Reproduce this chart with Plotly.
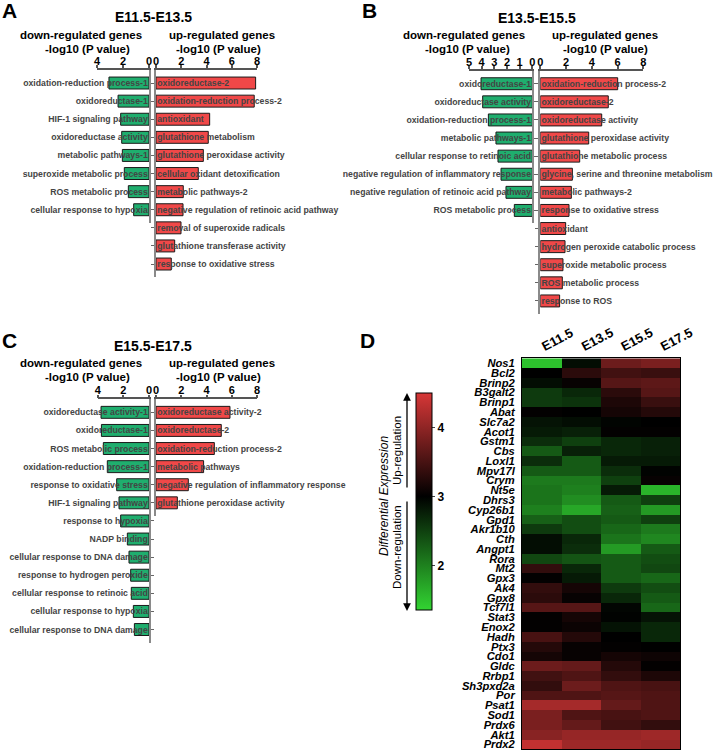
import plotly.graph_objects as go

W, H = 715, 752
S = 18.1      # row pitch in px
PAD = 0.72    # padding (in rows) above first / below last bar

# ---------------- data ----------------
a_down_terms = ["oxidation-reduction process-1", "oxidoreductase-1", "HIF-1 signaling pathway",
                "oxidoreductase activity", "metabolic pathways-1", "superoxide metabolic process",
                "ROS metabolic process", "cellular response to hypoxia"]
a_down_vals = [3.08, 2.38, 2.18, 2.10, 2.05, 1.90, 1.59, 1.18]
a_up_terms = ["oxidoreductase-2", "oxidation-reduction process-2", "antioxidant",
              "glutathione metabolism", "glutathione peroxidase activity",
              "cellular oxidant detoxification", "metabolic pathways-2",
              "negative regulation of retinoic acid pathway", "removal of superoxide radicals",
              "glutathione transferase activity", "response to oxidative stress"]
a_up_vals = [7.89, 7.78, 4.25, 4.14, 3.75, 3.35, 2.16, 2.14, 1.98, 1.48, 1.21]

b_down_terms = ["oxidoreductase-1", "oxidoreductase activity", "oxidation-reduction process-1",
                "metabolic pathways-1", "cellular response to retinoic acid",
                "negative regulation of inflammatory response",
                "negative regulation of retinoic acid pathway", "ROS metabolic process"]
b_down_vals = [4.05, 3.92, 3.47, 2.87, 2.71, 2.47, 2.08, 1.42]
b_up_terms = ["oxidation-reduction process-2", "oxidoreductase-2", "oxidoreductase activity",
              "glutathione peroxidase activity", "glutathione metabolic process",
              "glycine, serine and threonine metabolism", "metabolic pathways-2",
              "response to oxidative stress", "antioxidant", "hydrogen peroxide catabolic process",
              "superoxide metabolic process", "ROS metabolic process", "response to ROS"]
b_up_vals = [6.01, 5.28, 4.77, 3.76, 3.06, 2.49, 2.41, 2.23, 1.97, 1.92, 1.76, 1.71, 1.50]

c_down_terms = ["oxidoreductase activity-1", "oxidoreductase-1", "ROS metabolic process",
                "oxidation-reduction process-1", "response to oxidative stress",
                "HIF-1 signaling pathway", "response to hypoxia", "NADP binding",
                "cellular response to DNA damage", "response to hydrogen peroxide",
                "cellular response to retinoic acid", "cellular response to hypoxia",
                "cellular response to DNA damage"]
c_down_vals = [3.74, 3.71, 3.56, 3.25, 2.52, 2.34, 2.21, 1.69, 1.56, 1.43, 1.38, 1.22, 1.14]
c_up_terms = ["oxidoreductase activity-2", "oxidoreductase-2", "oxidation-reduction process-2",
              "metabolic pathways", "negative regulation of inflammatory response",
              "glutathione peroxidase activity"]
c_up_vals = [5.86, 5.17, 4.62, 3.77, 2.56, 1.69]

stages = ["E11.5", "E13.5", "E15.5", "E17.5"]
genes = ["Nos1", "Bcl2", "Brinp2", "B3galt2", "Brinp1", "Abat", "Slc7a2", "Acot1", "Gstm1",
         "Cbs", "Loxl1", "Mpv17l", "Crym", "Nt5e", "Dhrs3", "Cyp26b1", "Gpd1", "Akr1b10",
         "Cth", "Angpt1", "Rora", "Mt2", "Gpx3", "Ak4", "Gpx8", "Tcf7l1", "Stat3", "Enox2",
         "Hadh", "Ptx3", "Cdo1", "Gldc", "Rrbp1", "Sh3pxd2a", "Por", "Psat1", "Sod1",
         "Prdx6", "Akt1", "Prdx2"]
expr = [
    [1.50, 2.90, 3.75, 3.85],
    [3.00, 3.30, 3.45, 3.40],
    [2.90, 3.05, 3.60, 3.65],
    [2.55, 2.70, 3.30, 3.60],
    [2.55, 2.60, 3.20, 3.40],
    [3.02, 3.00, 3.15, 3.25],
    [2.85, 2.90, 2.97, 3.00],
    [2.80, 2.75, 3.02, 3.02],
    [2.65, 2.50, 2.70, 2.75],
    [2.30, 2.75, 2.70, 2.75],
    [2.65, 2.30, 2.80, 2.80],
    [2.30, 2.30, 2.65, 2.98],
    [2.05, 2.05, 2.50, 3.05],
    [2.10, 2.00, 2.80, 1.60],
    [2.10, 1.90, 2.30, 2.50],
    [2.00, 1.70, 2.25, 1.80],
    [2.25, 2.40, 2.30, 2.50],
    [2.55, 2.40, 2.20, 2.05],
    [2.90, 2.70, 2.10, 1.95],
    [2.90, 2.65, 1.80, 2.30],
    [2.45, 2.35, 2.30, 2.40],
    [3.35, 2.70, 2.30, 2.45],
    [3.02, 2.80, 2.30, 2.20],
    [3.35, 3.15, 2.55, 2.40],
    [3.30, 3.05, 2.70, 2.30],
    [3.60, 3.60, 2.95, 2.20],
    [3.02, 3.15, 2.98, 2.85],
    [3.02, 3.08, 2.85, 2.70],
    [3.50, 3.25, 3.00, 2.70],
    [3.25, 3.05, 3.02, 3.00],
    [3.15, 3.05, 3.15, 3.10],
    [3.75, 3.70, 3.25, 3.02],
    [3.45, 3.55, 3.35, 3.20],
    [3.35, 3.75, 3.55, 3.50],
    [3.55, 3.55, 3.60, 3.55],
    [4.15, 4.15, 3.70, 3.55],
    [3.85, 3.55, 3.50, 3.55],
    [3.85, 3.70, 3.45, 3.35],
    [3.95, 4.05, 4.05, 4.10],
    [4.35, 4.10, 4.10, 4.05],
]
cbar_ticks = [2, 3, 4]

# ---------------- styling ----------------
FONT = "Arial, Liberation Sans, sans-serif"
GREEN = "#1fae6e"
RED = "#f04848"


def X(p):
    return p / W


def Y(p):
    return 1 - p / H


fig = go.Figure()
layout = dict(
    width=W, height=H, margin=dict(l=0, r=0, t=0, b=0),
    paper_bgcolor="white", plot_bgcolor="rgba(0,0,0,0)",
    showlegend=False, font=dict(family=FONT, color="black"),
)

# (terms, values, direction, x0px, x1px, xmax, top px, tick step)
panels = [
    (a_down_terms, a_down_vals, "down", 97, 149, 4, 70, 2),
    (a_up_terms, a_up_vals, "up", 156, 257, 8, 70, 2),
    (b_down_terms, b_down_vals, "down", 469, 532.3, 5, 70.7, 1),
    (b_up_terms, b_up_vals, "up", 540.3, 643.3, 8, 70.7, 2),
    (c_down_terms, c_down_vals, "down", 97.7, 149, 4, 399.3, 2),
    (c_up_terms, c_up_vals, "up", 156, 257, 8, 399.3, 2),
]

for i, (terms, vals, d, x0, x1, xmax, top, step) in enumerate(panels, start=1):
    n = len(terms)
    rows = list(range(n))
    xa = "x" if i == 1 else f"x{i}"
    ya = "y" if i == 1 else f"y{i}"
    fig.add_trace(go.Bar(
        x=vals, y=rows, orientation="h", xaxis=xa, yaxis=ya,
        marker=dict(color=GREEN if d == "down" else RED, line=dict(color="#1a1a1a", width=1)),
        width=0.66, hoverinfo="x+y",
    ))
    bottom = top + (n - 1 + 2 * PAD) * S
    key = "" if i == 1 else str(i)
    layout["xaxis" + key] = dict(
        domain=[X(x0), X(x1)], anchor=ya, side="top",
        range=[xmax, 0] if d == "down" else [0, xmax],
        tickvals=list(range(0, xmax + 1, step)),
        showline=True, linecolor="#555555", linewidth=1.5,
        ticks="outside", ticklen=3, tickcolor="#555555", tickwidth=1.5,
        ticklabelstandoff=-4,
        tickfont=dict(size=11, family=FONT, weight="bold"),
        showgrid=False, zeroline=False, fixedrange=True, automargin=False,
    )
    layout["yaxis" + key] = dict(
        domain=[Y(bottom), Y(top)], anchor=xa,
        side="right" if d == "down" else "left",
        range=[n - 1 + PAD, -PAD],
        tickmode="array", tickvals=rows, ticktext=terms,
        ticklabelposition="inside", ticklabeloverflow="allow",
        ticks="outside", ticklen=3, tickcolor="#666666",
        showline=True, linecolor="#8a8a8a", linewidth=2,
        tickfont=dict(size=8.7, family=FONT, weight="bold"),
        showgrid=False, zeroline=False, fixedrange=True, automargin=False,
    )

# heatmap
lo, hi, mid = 1.35, 4.5, 3.0
fm = (mid - lo) / (hi - lo)
fig.add_trace(go.Heatmap(
    z=expr, x=stages, y=genes, xaxis="x7", yaxis="y7",
    zmin=lo, zmax=hi,
    colorscale=[[0, "rgb(50,212,50)"], [fm, "rgb(0,0,0)"], [1, "rgb(215,55,55)"]],
    colorbar=dict(
        x=X(415.7), xanchor="left", y=Y(393.3), yanchor="top",
        len=(610 - 393.3) / H, lenmode="fraction", thickness=16, thicknessmode="pixels",
        outlinecolor="black", outlinewidth=1,
        tickmode="array", tickvals=cbar_ticks, ticks="outside", ticklen=3,
        tickfont=dict(size=12, family=FONT, weight="bold"), xpad=0, ypad=0,
    ),
))
layout["xaxis7"] = dict(
    domain=[X(522), X(680.3)], anchor="y7", side="top", tickangle=-28,
    tickfont=dict(size=13, family=FONT, weight="bold"), ticks="",
    showline=True, mirror=True, linecolor="black", linewidth=1, fixedrange=True,
    automargin=False,
)
layout["yaxis7"] = dict(
    domain=[Y(749.3), Y(358.3)], anchor="x7", autorange="reversed",
    tickmode="array", tickvals=genes, ticktext=genes,
    ticks="outside", ticklen=4, tickcolor="rgba(0,0,0,0)",
    tickfont=dict(size=11.2, family=FONT, weight="bold", style="italic"),
    showline=True, mirror=True, linecolor="black", linewidth=1, fixedrange=True,
    automargin=False,
)

ann = []


def text(x, y, s, size, bold=True, italic=False, angle=0, xanchor="center"):
    ann.append(dict(
        x=X(x), y=Y(y), xref="paper", yref="paper", text=s, showarrow=False,
        xanchor=xanchor, yanchor="middle", textangle=angle,
        font=dict(size=size, family=FONT, color="black",
                  weight="bold" if bold else "normal", style="italic" if italic else "normal"),
    ))


# panel letters
text(9, 10, "A", 21)
text(369, 10, "B", 21)
text(9, 340, "C", 21)
text(367, 340, "D", 21)
# panel titles
text(153, 17, "E11.5-E13.5", 14)
text(537, 17.5, "E13.5-E15.5", 14)
text(153, 346, "E15.5-E17.5", 14)
# axis titles
for (cx_d, cx_d2, cx_u, cx_u2, y1, y2) in [
    (81, 87, 222, 218, 35, 49),
    (464, 467, 605, 605, 35, 49),
    (81, 87, 222, 218, 363, 377),
]:
    text(cx_d, y1, "down-regulated genes", 11.5)
    text(cx_d2, y2, "-log10 (P value)", 11.5)
    text(cx_u, y1, "up-regulated genes", 11.5)
    text(cx_u2, y2, "-log10 (P value)", 11.5)

# colorbar captions
text(384, 496, "Differential Expression", 12, bold=False, italic=True, angle=-90)
text(397, 451, "Up-regulation", 11.5, bold=False, angle=-90)
text(397, 547, "Down-regulation", 11.5, bold=False, angle=-90)
# arrows
ann.append(dict(x=X(407), y=Y(393), xref="paper", yref="paper", ax=0, ay=96,
                showarrow=True, arrowhead=2, arrowsize=1.2, arrowwidth=1.3, arrowcolor="black", text=""))
ann.append(dict(x=X(407), y=Y(611), xref="paper", yref="paper", ax=0, ay=-111,
                showarrow=True, arrowhead=2, arrowsize=1.2, arrowwidth=1.3, arrowcolor="black", text=""))

layout["annotations"] = ann
fig.update_layout(**layout)
fig.write_html(
    "out.html",
    config={"displayModeBar": False},
    post_script="document.body.style.margin='0';document.body.style.overflow='hidden';",
)
